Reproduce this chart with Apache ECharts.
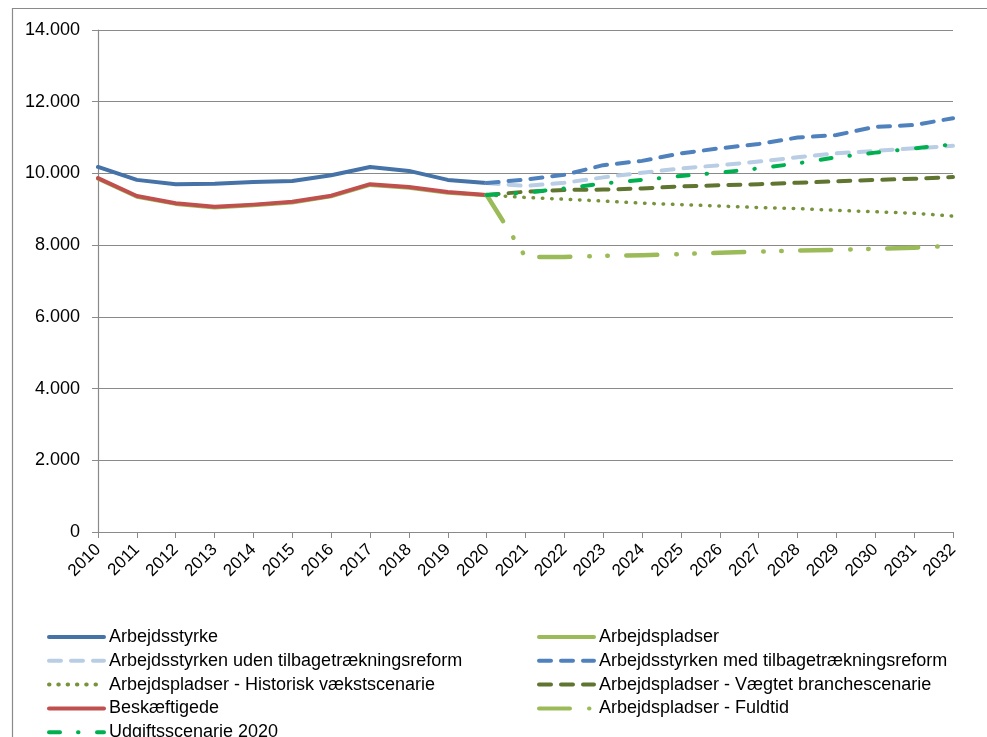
<!DOCTYPE html>
<html><head><meta charset="utf-8">
<script src="https://cdn.jsdelivr.net/npm/echarts@6/dist/echarts.min.js"></script>
<style>html,body{margin:0;padding:0;background:#fff}#c{width:987px;height:737px}</style>
</head><body><div id="c"></div>
<script>
var years = ['2010','2011','2012','2013','2014','2015','2016','2017','2018','2019','2020','2021','2022','2023','2024','2025','2026','2027','2028','2029','2030','2031','2032'];
var yTicks = [0, 2000, 4000, 6000, 8000, 10000, 12000, 14000];
var arbejdsstyrke = [10180, 9820, 9700, 9710, 9760, 9790, 9950, 10180, 10070, 9820, 9730];
var arbejdspladser = [9850, 9350, 9150, 9050, 9110, 9190, 9360, 9680, 9600, 9460, 9390];
var beskaeftigede = [9870, 9370, 9170, 9070, 9130, 9210, 9380, 9700, 9620, 9480, 9400];
var udenReform = [null,null,null,null,null,null,null,null,null,null, 9730, 9650, 9740, 9890, 10020, 10140, 10230, 10330, 10450, 10560, 10630, 10700, 10770];
var medReform = [null,null,null,null,null,null,null,null,null,null, 9730, 9830, 9960, 10230, 10350, 10560, 10700, 10820, 11000, 11070, 11300, 11350, 11540];
var historisk = [null,null,null,null,null,null,null,null,null,null, 9400, 9330, 9280, 9230, 9170, 9130, 9090, 9050, 9020, 8970, 8930, 8890, 8810];
var vaegtet = [null,null,null,null,null,null,null,null,null,null, 9400, 9490, 9540, 9550, 9580, 9640, 9670, 9700, 9740, 9780, 9820, 9850, 9900];
var fuldtid = [null,null,null,null,null,null,null,null,null,null, 9400, 7670, 7670, 7700, 7720, 7750, 7790, 7820, 7850, 7870, 7900, 7930, 7980];
var udgift = [null,null,null,null,null,null,null,null,null,null, 9400, 9460, 9580, 9720, 9820, 9930, 10020, 10140, 10280, 10450, 10580, 10700, 10810];

var FONT = "'Liberation Sans', Arial, sans-serif";
function ser(name, data, color, width, type, z) {
  return {name: name, type: 'line', data: data, symbol: 'none', showSymbol: false, connectNulls: false,
    z: z || 2, animation: false,
    lineStyle: {color: color, width: width, type: type || 'solid', cap: 'round', join: 'round'},
    itemStyle: {color: color}};
}
function legendBox(left, names) {
  return {orient: 'vertical', left: left, top: 628, height: 300, padding: 0, itemWidth: 55, itemHeight: 16, itemGap: 5.8,
    itemStyle: {opacity: 0, borderWidth: 0},
    lineStyle: {width: 4, cap: 'round'},
    textStyle: {fontFamily: FONT, fontSize: 18, color: '#000', padding: [0, 0, 0, 0]},
    data: names};
}
var chart = echarts.init(document.getElementById('c'), null, {renderer: 'canvas'});
chart.setOption({
  animation: false,
  backgroundColor: '#fff',
  graphic: [{type: 'rect', shape: {x: 12.5, y: 8.5, width: 1000, height: 800}, style: {fill: 'none', stroke: '#8a8a8a', lineWidth: 1.2}, silent: true}],
  grid: {left: 98, right: 34, top: 30, bottom: 205},
  xAxis: {type: 'category', data: years, boundaryGap: false,
    axisLine: {lineStyle: {color: '#8a8a8a', width: 1.2}},
    axisTick: {show: true, interval: 0, length: 6, lineStyle: {color: '#8a8a8a'}},
    axisLabel: {interval: 0, rotate: 45, fontFamily: FONT, fontSize: 17, color: '#000', margin: 15}},
  yAxis: {type: 'value', min: 0, max: 14000, interval: 2000,
    axisLine: {show: true, lineStyle: {color: '#8a8a8a', width: 1.2}},
    axisTick: {show: true, length: 6, lineStyle: {color: '#8a8a8a'}},
    splitLine: {lineStyle: {color: '#8a8a8a', width: 1.2}},
    axisLabel: {fontFamily: FONT, fontSize: 18, color: '#000', margin: 18,
      formatter: function (v) { return yTicks.indexOf(v) >= 0 ? String(v).replace(/\B(?=(\d{3})+(?!\d))/g, '.') : ''; }}},
  legend: [
    legendBox(47, ['Arbejdsstyrke', 'Arbejdsstyrken uden tilbagetrækningsreform', 'Arbejdspladser - Historisk vækstscenarie', 'Beskæftigede', 'Udgiftsscenarie 2020']),
    legendBox(537, ['Arbejdspladser', 'Arbejdsstyrken med tilbagetrækningsreform', 'Arbejdspladser - Vægtet branchescenarie', 'Arbejdspladser - Fuldtid'])
  ],
  series: [
    ser('Arbejdspladser', arbejdspladser, '#9BBB59', 4),
    ser('Beskæftigede', beskaeftigede, '#C0504D', 4),
    ser('Arbejdsstyrke', arbejdsstyrke, '#4572A7', 4),
    ser('Arbejdsstyrken uden tilbagetrækningsreform', udenReform, '#B9CDE5', 4, [12, 10]),
    ser('Arbejdsstyrken med tilbagetrækningsreform', medReform, '#4F81BD', 4, [12, 10]),
    ser('Arbejdspladser - Historisk vækstscenarie', historisk, '#77933C', 3.5, [0.5, 8.8]),
    ser('Arbejdspladser - Vægtet branchescenarie', vaegtet, '#5F7530', 4, [12, 10]),
    ser('Arbejdspladser - Fuldtid', fuldtid, '#9BBB59', 4.5, [31, 19, 0.5, 17.5, 0.5, 18.5]),
    ser('Udgiftsscenarie 2020', udgift, '#00B050', 4, [11, 18, 0.5, 18.5])
  ]
});
</script></body></html>
